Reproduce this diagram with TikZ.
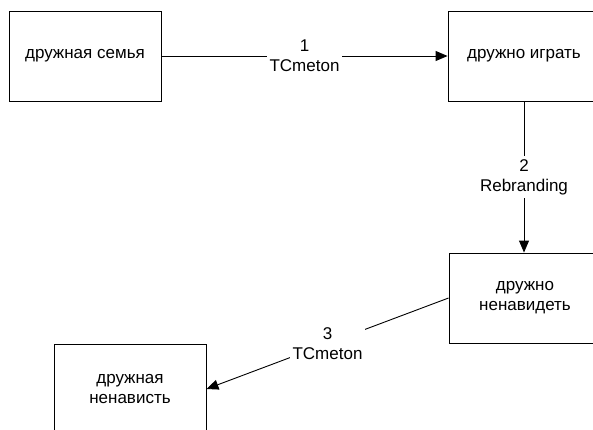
\documentclass[tikz,border=0pt]{standalone}
\usepackage{fontspec}
\setmainfont{Liberation Sans}
\usetikzlibrary{arrows.meta}
\begin{document}
\begin{tikzpicture}[x=1pt,y=-1pt,
  box/.style={draw, line width=0.9pt, minimum width=152pt, minimum height=90pt,
    inner sep=0pt, align=center, font=\fontsize{17}{20}\selectfont},
  flow/.style={line width=0.9pt, -{Triangle[length=12pt,width=10pt]}},
  tag/.style={fill=white, align=center, inner xsep=2.5pt, inner ysep=3pt,
    font=\fontsize{17}{20}\selectfont}]
\useasboundingbox (0,0) rectangle (593,430);
\clip (0,0) rectangle (593,430);

% states
\node[box] (family)  at (85,56)   {дружная семья};
\node[box] (play)    at (524,56)  {дружно играть};
\node[box] (hate)    at (525,298) {дружно\\ненавидеть};
\node[box] (hatred)  at (130,389) {дружная\\ненависть};

% transitions
\draw[flow] (family.east) -- node[tag] {1\\TCmeton} (play.west);
\draw[flow] (play.south -| 524,0) -- node[tag] {2\\Rebranding} (hate.north -| 524,0);
\draw[flow] (hate.west) -- node[tag] {3\\TCmeton} (hatred.east);
\end{tikzpicture}
\end{document}
